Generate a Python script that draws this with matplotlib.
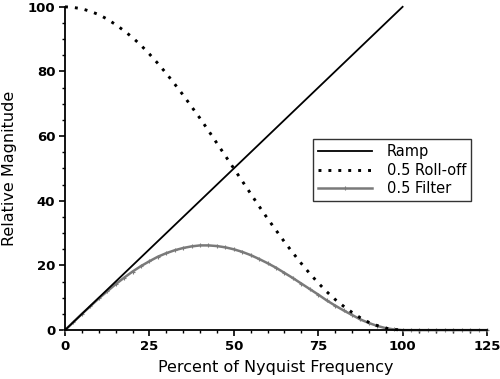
import matplotlib
matplotlib.use("Agg")
import matplotlib.pyplot as plt
from matplotlib.ticker import MultipleLocator

# Data
ramp_x = [0, 100]
ramp_y = [0, 100]

roll_x = [0, 2.5, 5, 7.5, 10, 12.5, 15, 17.5, 20, 22.5, 25, 27.5, 30, 32.5, 35, 37.5,
          40, 42.5, 45, 47.5, 50, 52.5, 55, 57.5, 60, 62.5, 65, 67.5, 70, 72.5, 75,
          77.5, 80, 82.5, 85, 87.5, 90, 92.5, 95, 97.5, 100]
roll_y = [100, 99.8, 99.4, 98.6, 97.6, 96.2, 94.5, 92.6, 90.5, 88.1, 85.4, 82.5, 79.4,
          76.1, 72.7, 69.1, 65.5, 61.7, 57.8, 53.9, 50.0, 46.1, 42.2, 38.3, 34.5, 30.9,
          27.3, 23.9, 20.6, 17.5, 14.6, 11.9, 9.5, 7.4, 5.5, 3.8, 2.4, 1.4, 0.6, 0.2, 0.0]

filt_x = [0, 2.5, 5, 7.5, 10, 12.5, 15, 17.5, 20, 22.5, 25, 27.5, 30, 32.5, 35, 37.5,
          40, 42.5, 45, 47.5, 50, 52.5, 55, 57.5, 60, 62.5, 65, 67.5, 70, 72.5, 75,
          77.5, 80, 82.5, 85, 87.5, 90, 92.5, 95, 97.5, 100, 102.5, 105, 107.5, 110,
          112.5, 115, 117.5, 120, 122.5, 125]
filt_y = [0, 2.5, 5.0, 7.4, 9.8, 12.0, 14.2, 16.2, 18.1, 19.8, 21.3, 22.7, 23.8, 24.7,
          25.4, 25.9, 26.2, 26.2, 26.0, 25.6, 25.0, 24.2, 23.2, 22.0, 20.7, 19.3, 17.7,
          16.1, 14.4, 12.7, 11.0, 9.2, 7.6, 6.1, 4.7, 3.3, 2.2, 1.3, 0.6, 0.2, 0.0,
          0, 0, 0, 0, 0, 0, 0, 0, 0, 0]

x_ticks = [0, 25, 50, 75, 100, 125]
y_ticks = [0, 20, 40, 60, 80, 100]

fig = plt.figure(figsize=(5, 3.79), dpi=100)
ax = fig.add_axes([0.13, 0.129, 0.844, 0.853])

ax.plot(filt_x, filt_y, color="#7a7a7a", lw=1.8, marker="+", ms=3, mew=0.8,
        label="0.5 Filter", clip_on=False, zorder=2)
ax.plot(ramp_x, ramp_y, color="black", lw=1.3, label="Ramp", clip_on=False, zorder=3)
ax.plot(roll_x, roll_y, color="black", lw=2.1, linestyle=(0, (1, 2.4)),
        dash_capstyle="butt", label="0.5 Roll-off", clip_on=False, zorder=4)

ax.set_xlim(0, 125)
ax.set_ylim(0, 100)
ax.set_xticks(x_ticks)
ax.set_yticks(y_ticks)
ax.xaxis.set_minor_locator(MultipleLocator(5))
ax.yaxis.set_minor_locator(MultipleLocator(5))
for s in ["top", "right"]:
    ax.spines[s].set_visible(False)
for s in ["left", "bottom"]:
    ax.spines[s].set_linewidth(1.3)
ax.tick_params(which="major", direction="out", length=4, width=1.2, pad=3)
ax.tick_params(which="minor", direction="out", length=2.5, width=1.0)
for lab in ax.get_xticklabels() + ax.get_yticklabels():
    lab.set_fontweight("bold")
    lab.set_fontsize(9.5)
    lab.set_family("DejaVu Sans")

ax.set_xlabel("Percent of Nyquist Frequency", fontsize=11.5, labelpad=5)
ax.set_ylabel("Relative Magnitude", fontsize=11.5, labelpad=8)

handles, labels = ax.get_legend_handles_labels()
order = [1, 2, 0]
leg = ax.legend([handles[i] for i in order], [labels[i] for i in order],
                loc="upper left", frameon=True, fancybox=False, fontsize=10.5,
                handlelength=3.7, borderpad=0.35, labelspacing=0.25,
                handletextpad=1.0, borderaxespad=0)
leg.get_frame().set_edgecolor("black")
leg.get_frame().set_linewidth(1.0)
leg.set_bbox_to_anchor((313 / 500, 1 - 139 / 379), transform=fig.transFigure)

fig.savefig("out.png", dpi=100)
